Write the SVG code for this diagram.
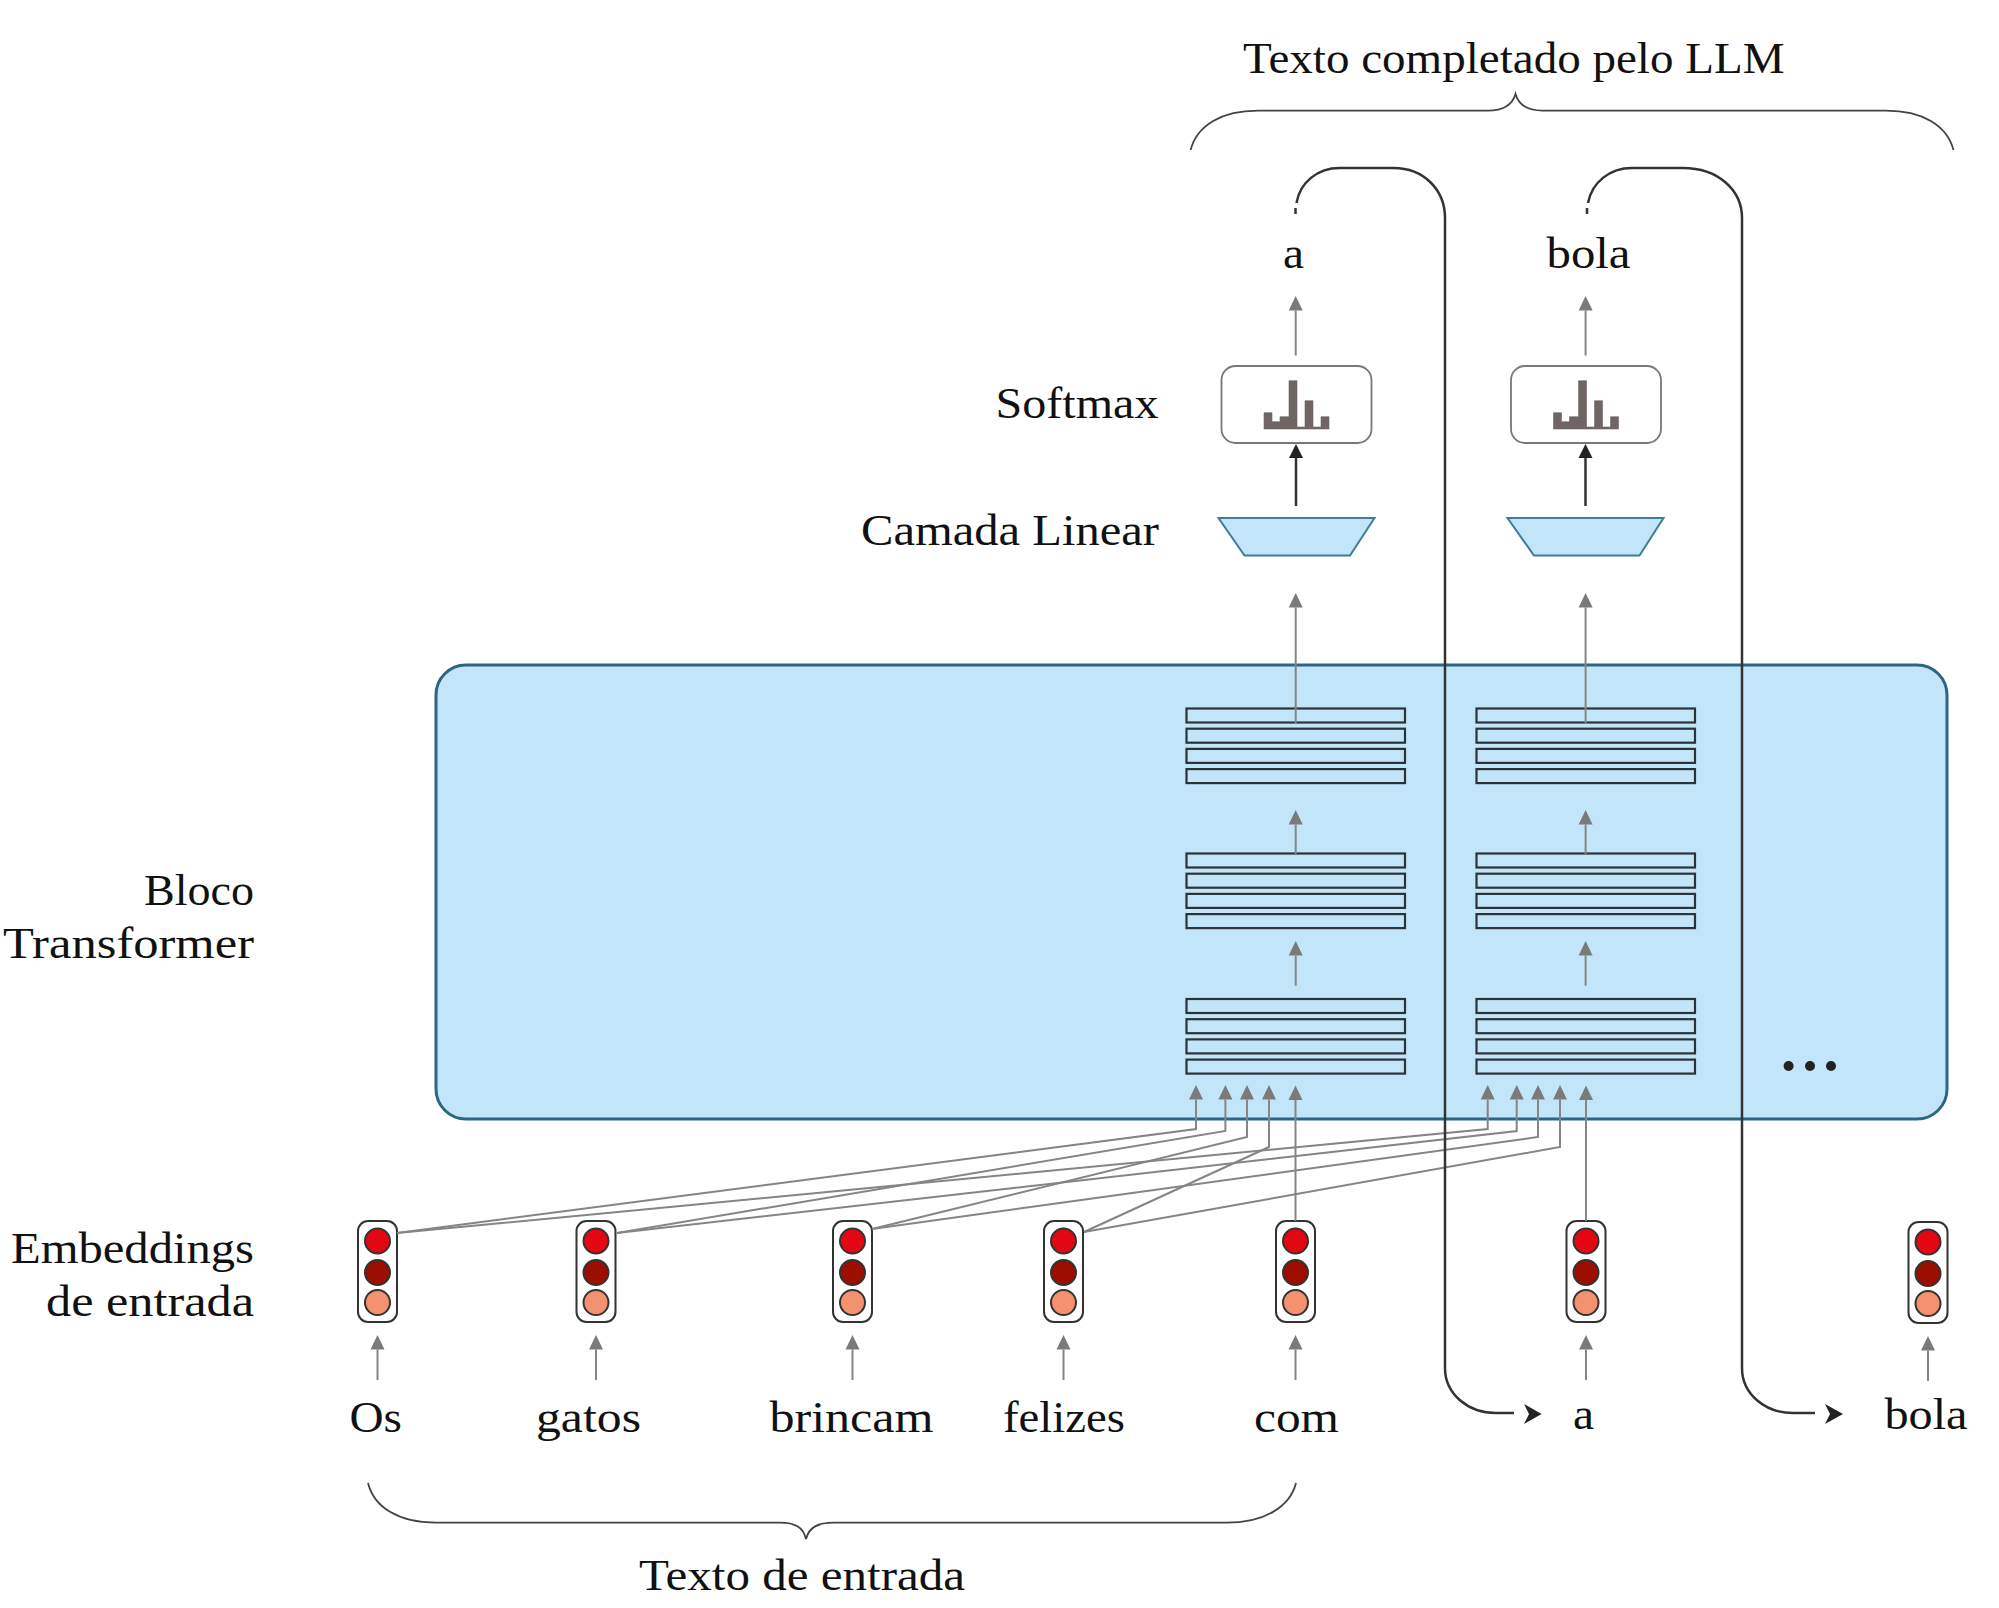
<svg xmlns="http://www.w3.org/2000/svg" width="1999" height="1608" viewBox="0 0 1999 1608">
<style>
text{font-family:"Liberation Serif","Times New Roman",serif;font-size:44px;fill:#111}
.row{fill:none;stroke:#2b3338;stroke-width:2.2}
.g{fill:none;stroke:#858585;stroke-width:2;marker-end:url(#ga)}
.k{fill:none;stroke:#333;stroke-width:2.5}
.br{fill:none;stroke:#444;stroke-width:1.8}
.soft{fill:#fff;stroke:#7d7672;stroke-width:1.8}
.bars{fill:#6f6664;stroke:#6f6664;stroke-width:0.6}
.lin{fill:#c3e5fa;stroke:#3f7d96;stroke-width:2}
.eb{fill:#fff;stroke:#333;stroke-width:2}
.c1{fill:#e30613;stroke:#333;stroke-width:2}
.c2{fill:#9b0e00;stroke:#333;stroke-width:2}
.c3{fill:#f4916f;stroke:#333;stroke-width:2}
</style>
<defs>
<marker id="ga" markerUnits="userSpaceOnUse" markerWidth="16" markerHeight="16" refX="0" refY="8" orient="auto"><path d="M0,1L14.5,8L0,15Z" fill="#7a7a7a"/></marker>
<marker id="ka" markerUnits="userSpaceOnUse" markerWidth="16" markerHeight="16" refX="0" refY="8" orient="auto"><path d="M0,1L14,8L0,15Z" fill="#222"/></marker>
<g id="stack"><rect class="row" x="0" y="0" width="218.5" height="14"/><rect class="row" x="0" y="20.2" width="218.5" height="14"/><rect class="row" x="0" y="40.4" width="218.5" height="14"/><rect class="row" x="0" y="60.6" width="218.5" height="14"/></g>
<g id="emb"><rect class="eb" x="-19.5" y="1221" width="39" height="101" rx="10"/><circle class="c1" cx="0" cy="1241" r="12.5"/><circle class="c2" cx="0" cy="1272.5" r="12.5"/><circle class="c3" cx="0" cy="1302.5" r="12.5"/></g>
<g id="softshape"><rect class="soft" x="1221.5" y="366" width="150" height="77" rx="14"/><path class="bars" d="M1264,429V412.7H1272V421.7H1280V416.7H1289V380.7H1297V427H1305V400.7H1313V427H1321V416.7H1329V429Z"/></g>
</defs>

<g id="bloco-transformer"><rect x="436" y="665" width="1511" height="454" rx="30" fill="#c3e5fa" stroke="#2c6680" stroke-width="3"/>
<circle cx="1788.6" cy="1066" r="5" fill="#222"/><circle cx="1810" cy="1066" r="5" fill="#222"/><circle cx="1831" cy="1066" r="5" fill="#222"/></g>

<g id="stacks">
<use href="#stack" x="1186.5" y="708.5"/><use href="#stack" x="1186.5" y="853.5"/><use href="#stack" x="1186.5" y="999"/>
<use href="#stack" x="1476.5" y="708.5"/><use href="#stack" x="1476.5" y="853.5"/><use href="#stack" x="1476.5" y="999"/>
</g>

<g id="softmax-1"><use href="#softshape"/></g>
<g id="softmax-2"><use href="#softshape" x="289.5"/></g>
<g id="linear-1"><path class="lin" d="M1218.5,518H1374.5L1350,555.5H1244.5Z"/></g>
<g id="linear-2"><path class="lin" d="M1507.5,518H1663.5L1639.5,555.5H1534Z"/></g>

<g id="embeddings">
<use id="emb-os" href="#emb" x="377.5"/><use id="emb-gatos" href="#emb" x="596"/><use id="emb-brincam" href="#emb" x="852.5"/><use id="emb-felizes" href="#emb" x="1063.5"/><use id="emb-com" href="#emb" x="1295.5"/><use id="emb-a" href="#emb" x="1586"/><use id="emb-bola" href="#emb" x="1928" y="1"/>
</g>

<g id="connectors">
<path class="g" d="M1295.7,355.5V310.5"/><path class="g" d="M1585.6,355.5V310.5"/>
<path class="g" d="M1295.7,724V607.5"/><path class="g" d="M1585.6,724V607.5"/>
<path class="g" d="M1295.7,854V824.5"/><path class="g" d="M1585.6,854V824.5"/>
<path class="g" d="M1295.7,985.7V955.5"/><path class="g" d="M1585.6,985.7V955.5"/>
<path d="M1296,506V458" fill="none" stroke="#333" stroke-width="2.5" marker-end="url(#ka)"/>
<path d="M1585.5,506V458" fill="none" stroke="#333" stroke-width="2.5" marker-end="url(#ka)"/>
<path class="g" d="M397,1233L1196,1129V1099.5"/>
<path class="g" d="M617,1233L1225.4,1131V1099.5"/>
<path class="g" d="M872,1229L1247,1137V1099.5"/>
<path class="g" d="M1084,1232L1269,1147V1099.5"/>
<path class="g" d="M397,1233L1487.7,1129V1099.5"/>
<path class="g" d="M617,1233L1516.7,1131V1099.5"/>
<path class="g" d="M872,1229L1538,1137V1099.5"/>
<path class="g" d="M1084,1232L1560,1147V1099.5"/>
<path class="g" d="M1295.5,1221V1100"/><path class="g" d="M1586,1221V1100"/>
<path class="g" d="M377.5,1380V1349.5"/><path class="g" d="M596,1380V1349.5"/><path class="g" d="M852.5,1380V1349.5"/><path class="g" d="M1063.5,1380V1349.5"/><path class="g" d="M1295.5,1380V1349.5"/><path class="g" d="M1586,1380V1349.5"/><path class="g" d="M1928,1381V1350.5"/>
<path class="k" d="M1295.5,214V208M1296.5,203C1300,182 1318,168 1339.5,168H1393.5C1424,168 1445,190 1445,218V1368C1445,1394 1468,1413 1496,1413H1514"/>
<path d="M1524,1404L1541.6,1414L1524,1424L1529,1414Z" fill="#222"/>
<path class="k" d="M1587,214V208M1588,203C1592,182 1610,168 1632,168H1683C1718,168 1742,190 1742,218V1368C1742,1394 1765,1413 1793,1413H1815"/>
<path d="M1825,1404L1843,1414L1825,1424L1830,1414Z" fill="#222"/>
<path class="br" d="M1190.6,150C1197,125 1222,110.6 1258,110.6H1488C1503,110.6 1512,106 1515.5,94C1519,106 1528,110.6 1542.5,110.6H1886C1922,110.6 1947,125 1953.5,150"/>
<path class="br" d="M368,1483C374,1507 398,1522.7 436,1522.7H780C795,1522.7 803,1527 806,1539C809,1527 818,1522.7 834,1522.7H1226.5C1264,1522.7 1290,1507 1296,1483"/>
</g>

<g id="labels">
<text x="1243" y="73" textLength="541.5" lengthAdjust="spacingAndGlyphs">Texto completado pelo LLM</text>
<text x="1283" y="268" textLength="21" lengthAdjust="spacingAndGlyphs">a</text>
<text x="1546.5" y="268" textLength="84" lengthAdjust="spacingAndGlyphs">bola</text>
<text x="995.5" y="418" textLength="163" lengthAdjust="spacingAndGlyphs">Softmax</text>
<text x="861" y="545" textLength="298" lengthAdjust="spacingAndGlyphs">Camada Linear</text>
<text x="144" y="905" textLength="110" lengthAdjust="spacingAndGlyphs">Bloco</text>
<text x="3" y="958.3" textLength="251" lengthAdjust="spacingAndGlyphs">Transformer</text>
<text x="11" y="1263" textLength="243" lengthAdjust="spacingAndGlyphs">Embeddings</text>
<text x="46" y="1315.7" textLength="208" lengthAdjust="spacingAndGlyphs">de entrada</text>
<text x="349.5" y="1431.7" textLength="52.5" lengthAdjust="spacingAndGlyphs">Os</text>
<text x="536" y="1431.7" textLength="105" lengthAdjust="spacingAndGlyphs">gatos</text>
<text x="769.5" y="1431.7" textLength="164" lengthAdjust="spacingAndGlyphs">brincam</text>
<text x="1003" y="1431.7" textLength="122" lengthAdjust="spacingAndGlyphs">felizes</text>
<text x="1254" y="1431.7" textLength="85" lengthAdjust="spacingAndGlyphs">com</text>
<text x="1573" y="1429" textLength="21" lengthAdjust="spacingAndGlyphs">a</text>
<text x="1884.5" y="1429" textLength="83" lengthAdjust="spacingAndGlyphs">bola</text>
<text x="639" y="1590" textLength="326" lengthAdjust="spacingAndGlyphs">Texto de entrada</text>
</g>
</svg>
